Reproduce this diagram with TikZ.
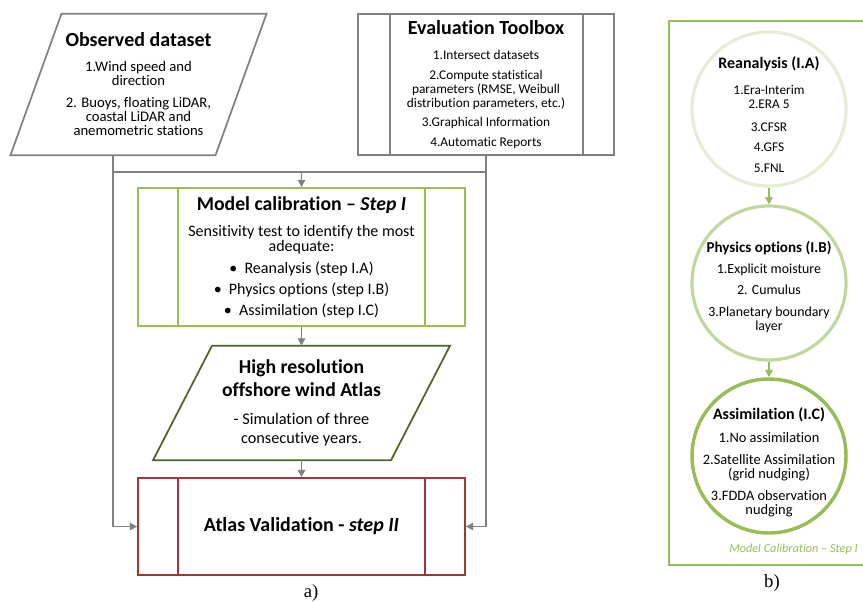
\documentclass[tikz,border=0pt]{standalone}
\usepackage{fontspec}
\setmainfont{Carlito}[Ligatures=NoCommon]
\newfontfamily\serifab{Liberation Serif}
\usepackage{tikz}
\usetikzlibrary{calc, arrows.meta}

\definecolor{linegray}{RGB}{128,128,128}
\definecolor{calibgreen}{RGB}{155,187,89}
\definecolor{olivegreen}{RGB}{79,98,40}
\definecolor{validred}{RGB}{160,55,55}
\definecolor{palegreen}{RGB}{230,237,214}
\definecolor{softgreen}{RGB}{195,214,155}

\begin{document}
\begin{tikzpicture}[x=0.75pt, y=-0.75pt,
  link/.style={linegray, line width=1.3pt},
  linkarrow/.style={link, -{Triangle[length=5.5pt,width=5.5pt]}},
  greenarrow/.style={calibgreen, line width=1.5pt, -{Triangle[length=5.5pt,width=5.5pt]}},
  graybox/.style={linegray, line width=1.3pt},
  textbox/.style={align=center, inner sep=0pt, font=\fontsize{11}{10.5}\selectfont},
  stepcircle/.style={circle, minimum size=115.5pt, inner sep=0pt},
  circletext/.style={align=center, inner sep=0pt},
  subfig/.style={font=\serifab\fontsize{14}{16}\selectfont}]
\useasboundingbox (0,0) rectangle (863,602);
\begin{scope}

\node[textbox, minimum width=153.4pt, minimum height=105.75pt] (obs) at (138.5,84.5)
  {{\bfseries\fontsize{15}{16}\selectfont Observed dataset}\\[8.25pt]
   1.Wind speed and\\direction\\[6pt]
   2. Buoys, floating LiDAR,\\coastal LiDAR and\\anemometric stations};
\draw[graybox]($(obs.north west)+(25.5,0)$)--($(obs.north east)+(25.5,0)$)
  --($(obs.south east)-(25.5,0)$)--($(obs.south west)-(25.5,0)$)--cycle;
\coordinate (obsfoot) at ($(obs.south)-(25.5,0)$);

\node[textbox, font=\fontsize{10}{10.5}\selectfont, draw=linegray, line width=1.3pt,
  minimum width=192pt, minimum height=105.75pt] (tool) at (486,84.5)
  {{\bfseries\fontsize{15}{16}\selectfont Evaluation Toolbox}\\[8.25pt]
   1.Intersect datasets\\[4.5pt]
   2.Compute statistical\\parameters (RMSE, Weibull\\distribution parameters, etc.)\\[3.75pt]
   3.Graphical Information\\[4.5pt]
   4.Automatic Reports};
\draw[graybox]($(tool.north west)+(33,0)$)to($(tool.south west)+(33,0)$);
\draw[graybox]($(tool.north east)-(32,0)$)to($(tool.south east)-(32,0)$);

\node[textbox, font=\fontsize{12}{11.25}\selectfont, draw=calibgreen, line width=1.3pt,
  minimum width=245.25pt, minimum height=103.5pt] (calib) at (301.5,257)
  {{\bfseries\fontsize{14.8}{16}\selectfont Model calibration -- \textit{Step I}}\\[8.25pt]
   Sensitivity test to identify the most\\adequate:\\[5.25pt]
   •~~Reanalysis (step I.A)\\[4.5pt]
   •~~Physics options (step I.B)\\[4.5pt]
   •~~Assimilation (step I.C)};
\draw[calibgreen, line width=1.3pt]($(calib.north west)+(41,0)$)to($(calib.south west)+(41,0)$);
\draw[calibgreen, line width=1.3pt]($(calib.north east)-(41,0)$)to($(calib.south east)-(41,0)$);

\node[textbox, font=\fontsize{12.2}{10.5}\selectfont, minimum width=178.1pt, minimum height=85.5pt] (atlas) at (301.5,403)
  {{\bfseries\fontsize{14.8}{16}\selectfont High resolution}\\[3.75pt]
   {\bfseries\fontsize{14.8}{16}\selectfont offshore wind Atlas}\\[10.5pt]
   - Simulation of three\\[3.75pt]consecutive years.};
\draw[olivegreen, line width=1.3pt]($(atlas.north west)+(29.5,0)$)--($(atlas.north east)+(29.5,0)$)
  --($(atlas.south east)-(29.5,0)$)--($(atlas.south west)-(29.5,0)$)--cycle;

\node[textbox, draw=validred, line width=1.3pt, minimum width=245.25pt, minimum height=72.75pt,
  font=\bfseries\fontsize{15}{16}\selectfont] (valid) at (301.5,526.5)
  {Atlas Validation - \textit{step II}};
\draw[validred, line width=1.3pt]($(valid.north west)+(41,0)$)to($(valid.south west)+(41,0)$);
\draw[validred, line width=1.3pt]($(valid.north east)-(41,0)$)to($(valid.south east)-(41,0)$);

\coordinate (split) at (301.5,172);
\draw[link](obsfoot)|-(split)-|(tool.south);
\draw[linkarrow](split)to(calib.north);
\draw[linkarrow](calib.south)to(atlas.north);
\draw[linkarrow](atlas.south)to(valid.north);
\draw[linkarrow](obsfoot)|-(valid.west);
\draw[linkarrow](tool.south)|-(valid.east);

\node[subfig] (labela) at (311,593) {a)};

\end{scope}

\begin{scope}
\draw[calibgreen, line width=1.6pt](669,21)rectangle(900,565);

\node[stepcircle, draw=palegreen, line width=2.4pt] (rean) at (769,109) {};
\node[stepcircle, draw=softgreen, line width=2.4pt] (phys) at (769,283) {};
\node[stepcircle, draw=calibgreen, line width=2.6pt] (assim) at (769,456) {};

\node[circletext, font=\fontsize{10}{10.5}\selectfont] (reantext) at (769,114.5)
  {{\bfseries\fontsize{12}{13}\selectfont Reanalysis (I.A)}\\[9pt]
   1.Era-Interim\\2.ERA 5\\[6.75pt]3.CFSR\\[4.5pt]4.GFS\\[5.25pt]5.FNL};
\node[circletext, font=\fontsize{10.4}{10.5}\selectfont] (phystext) at (769,287)
  {{\bfseries\fontsize{11.3}{13}\selectfont Physics options (I.B)}\\[5.25pt]
   1.Explicit moisture\\[5.25pt]2. Cumulus\\[6pt]3.Planetary boundary\\layer};
\node[circletext, font=\fontsize{10.8}{10.5}\selectfont] (assimtext) at (769,462)
  {{\bfseries\fontsize{12}{13}\selectfont Assimilation (I.C)}\\[6.75pt]
   1.No assimilation\\[6pt]2.Satellite Assimilation\\(grid nudging)\\[6pt]3.FDDA observation\\nudging};

\draw[greenarrow](rean)to(phys);
\draw[greenarrow](phys)to(assim);

\node[anchor=west, inner sep=0pt, text=calibgreen, font=\itshape\fontsize{9.2}{11}\selectfont] (framelabel) at (729,549)
  {Model Calibration -- Step I};
\node[subfig] (labelb) at (772,583) {b)};
\end{scope}
\end{tikzpicture}
\end{document}
